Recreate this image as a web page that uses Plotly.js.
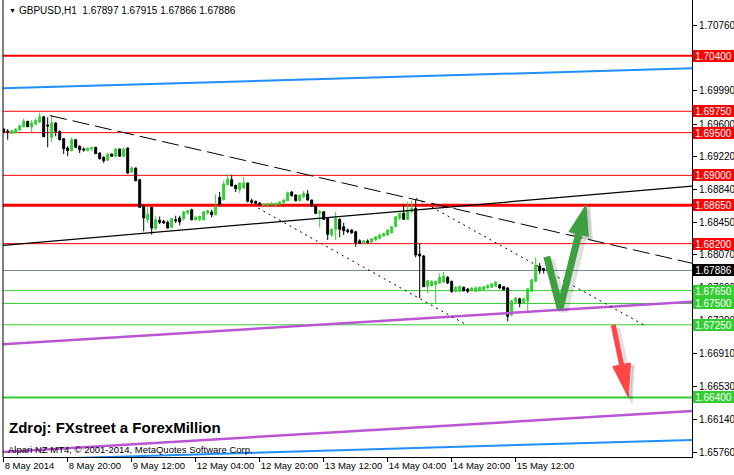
<!DOCTYPE html>
<html>
<head>
<meta charset="utf-8">
<script src="https://cdn.plot.ly/plotly-3.0.1.min.js"></script>
<style>
  html, body { margin: 0; padding: 0; background: #fff; }
  #chart { width: 734px; height: 475px; }
</style>
</head>
<body>
<div id="chart"></div>
<script>
// ---- Data (GBPUSD, H1) ----
const symbolName = 'GBPUSD,H1';
const timeLabels = ['8 May 2014', '8 May 20:00', '9 May 12:00', '12 May 04:00', '12 May 20:00',
  '13 May 12:00', '14 May 04:00', '14 May 20:00', '15 May 12:00'];
const timeLabelBars = [0, 16, 32, 48, 64, 80, 96, 112, 128];

const opens = [1.69542,1.69519,1.69492,1.69496,1.69531,1.69569,1.69633,1.69566,1.69601,1.69624,
  1.69686,1.69589,1.69445,1.69613,1.69515,1.69429,1.69320,1.69288,1.69417,1.69340,
  1.69308,1.69288,1.69308,1.69328,1.69261,1.69211,1.69176,1.69250,1.69223,1.69308,
  1.69223,1.69320,1.69039,1.69086,1.68949,1.68637,1.68480,1.68625,1.68375,1.68473,
  1.68462,1.68450,1.68391,1.68480,1.68500,1.68492,1.68559,1.68597,1.68480,1.68480,
  1.68480,1.68559,1.68571,1.68539,1.68743,1.68715,1.68890,1.68949,1.68883,1.68832,
  1.68852,1.68910,1.68703,1.68696,1.68676,1.68649,1.68649,1.68656,1.68649,1.68661,
  1.68679,1.68703,1.68805,1.68770,1.68703,1.68750,1.68781,1.68711,1.68641,1.68555,
  1.68574,1.68497,1.68301,1.68368,1.68485,1.68398,1.68360,1.68360,1.68340,1.68234,
  1.68204,1.68231,1.68219,1.68243,1.68262,1.68289,1.68301,1.68328,1.68398,1.68497,
  1.68555,1.68485,1.68574,1.68614,1.68079,1.68055,1.67700,1.67707,1.67719,1.67739,
  1.67751,1.67806,1.67759,1.67642,1.67642,1.67689,1.67669,1.67649,1.67642,1.67649,
  1.67661,1.67681,1.67689,1.67700,1.67719,1.67696,1.67681,1.67368,1.67517,1.67555,
  1.67505,1.67525,1.67642,1.67759,1.67935,1.67905,1.67897];
const highs = [1.69548,1.69542,1.69531,1.69548,1.69593,1.69663,1.69636,1.69648,1.69671,1.69733,
  1.69695,1.69679,1.69703,1.69620,1.69527,1.69437,1.69340,1.69445,1.69420,1.69352,
  1.69328,1.69325,1.69330,1.69332,1.69270,1.69223,1.69253,1.69253,1.69312,1.69312,
  1.69328,1.69325,1.69106,1.69090,1.68960,1.68656,1.68625,1.68630,1.68520,1.68520,
  1.68480,1.68469,1.68500,1.68527,1.68527,1.68586,1.68597,1.68609,1.68527,1.68527,
  1.68586,1.68597,1.68597,1.68781,1.68805,1.68937,1.69016,1.69007,1.68890,1.68915,
  1.68977,1.68915,1.68726,1.68703,1.68688,1.68670,1.68672,1.68684,1.68684,1.68696,
  1.68720,1.68810,1.68817,1.68781,1.68775,1.68816,1.68828,1.68715,1.68652,1.68594,
  1.68580,1.68505,1.68380,1.68574,1.68497,1.68445,1.68377,1.68368,1.68345,1.68251,
  1.68240,1.68251,1.68262,1.68289,1.68321,1.68325,1.68372,1.68406,1.68524,1.68562,
  1.68664,1.68691,1.68703,1.68719,1.68207,1.68067,1.67774,1.67770,1.67766,1.67856,
  1.67868,1.67821,1.67766,1.67700,1.67707,1.67700,1.67681,1.67689,1.67700,1.67696,
  1.67704,1.67720,1.67735,1.67759,1.67727,1.67704,1.67689,1.67544,1.67575,1.67568,
  1.67568,1.67681,1.67786,1.68040,1.67973,1.67915,1.67915];
const lows = [1.69496,1.69417,1.69484,1.69492,1.69523,1.69562,1.69566,1.69507,1.69586,1.69613,
  1.69449,1.69328,1.69387,1.69457,1.69410,1.69250,1.69223,1.69281,1.69320,1.69261,
  1.69277,1.69285,1.69281,1.69250,1.69183,1.69144,1.69170,1.69220,1.69220,1.69220,
  1.69211,1.69016,1.69027,1.68930,1.68617,1.68345,1.68442,1.68305,1.68363,1.68430,
  1.68430,1.68375,1.68383,1.68442,1.68415,1.68469,1.68539,1.68473,1.68469,1.68462,
  1.68469,1.68539,1.68508,1.68532,1.68649,1.68703,1.68883,1.68871,1.68805,1.68793,
  1.68843,1.68684,1.68664,1.68664,1.68649,1.68641,1.68641,1.68649,1.68641,1.68656,
  1.68672,1.68699,1.68752,1.68694,1.68694,1.68731,1.68703,1.68633,1.68544,1.68391,
  1.68477,1.68243,1.68281,1.68243,1.68274,1.68301,1.68321,1.68313,1.68164,1.68196,
  1.68196,1.68204,1.68211,1.68234,1.68251,1.68284,1.68295,1.68321,1.68391,1.68477,
  1.68480,1.68477,1.68555,1.68040,1.67563,1.67692,1.67622,1.67700,1.67505,1.67727,
  1.67739,1.67727,1.67622,1.67634,1.67634,1.67642,1.67622,1.67642,1.67634,1.67642,
  1.67654,1.67673,1.67681,1.67696,1.67673,1.67654,1.67291,1.67349,1.67505,1.67455,
  1.67497,1.67408,1.67634,1.67751,1.67845,1.67850,1.67866];
const closes = [1.69504,1.69507,1.69523,1.69542,1.69581,1.69633,1.69569,1.69613,1.69640,1.69686,
  1.69452,1.69578,1.69613,1.69515,1.69417,1.69312,1.69288,1.69417,1.69328,1.69300,
  1.69297,1.69320,1.69328,1.69253,1.69195,1.69171,1.69250,1.69223,1.69308,1.69223,
  1.69308,1.69027,1.69086,1.68937,1.68625,1.68500,1.68547,1.68383,1.68480,1.68450,
  1.68442,1.68383,1.68492,1.68469,1.68453,1.68571,1.68586,1.68480,1.68508,1.68520,
  1.68571,1.68586,1.68539,1.68625,1.68656,1.68898,1.68957,1.68875,1.68843,1.68910,
  1.68910,1.68696,1.68684,1.68672,1.68656,1.68664,1.68664,1.68672,1.68672,1.68688,
  1.68711,1.68796,1.68761,1.68703,1.68766,1.68790,1.68711,1.68641,1.68555,1.68574,
  1.68485,1.68309,1.68368,1.68497,1.68368,1.68351,1.68340,1.68328,1.68211,1.68204,
  1.68234,1.68216,1.68258,1.68281,1.68301,1.68321,1.68360,1.68398,1.68515,1.68555,
  1.68485,1.68594,1.68614,1.68067,1.68055,1.67696,1.67766,1.67759,1.67759,1.67806,
  1.67818,1.67739,1.67642,1.67689,1.67700,1.67649,1.67642,1.67681,1.67681,1.67689,
  1.67696,1.67712,1.67727,1.67751,1.67681,1.67661,1.67349,1.67532,1.67563,1.67505,
  1.67555,1.67672,1.67778,1.67946,1.67883,1.67890,1.67886];

// Horizontal levels
const resistanceLevels = [1.70400, 1.69750, 1.69500, 1.69000, 1.68650, 1.68200];
const supportLevels = [1.67650, 1.67500, 1.67250, 1.66400];
const currentPrice = 1.67886;
const priceTicks = [1.70760, 1.69990, 1.69600, 1.69220, 1.68840, 1.68450, 1.68070,
  1.67690, 1.67300, 1.66910, 1.66530, 1.66140, 1.65760];

// Trend lines (bar index, price)
const trendSolidX = [-0.2, 172.1], trendSolidY = [1.68179, 1.68874];
const trendDashX = [11.6, 172.1], trendDashY = [1.69699, 1.67970];
const dotAX = [63.6, 115.8], dotAY = [1.68617, 1.67247];
const dotBX = [103.1, 160.3], dotBY = [1.68730, 1.67241];
const blueUpperX = [-0.2, 172.1], blueUpperY = [1.70019, 1.70253];
const blueLowerX = [-0.2, 172.1], blueLowerY = [1.65666, 1.65901];
const purpleUpperX = [-0.2, 172.1], purpleUpperY = [1.67021, 1.67521];
const purpleLowerX = [-0.2, 172.1], purpleLowerY = [1.65760, 1.66240];

// Arrow anchors (bar index, price of tip)
const greenArrowTip = [145.6, 1.68653];
const redArrowTip = [156.15, 1.66404];

// ---- Build chart ----
const FONT = 'Liberation Sans, Arial, sans-serif';
const barIdx = opens.map((_, i) => i);

function line(x, y, color, width, dash) {
  return { type: 'scatter', mode: 'lines', x: x, y: y, hoverinfo: 'skip', showlegend: false,
    line: { color: color, width: width, dash: dash || 'solid' } };
}

const traces = [
  line(blueUpperX, blueUpperY, '#1E90FF', 2),
  line(blueLowerX, blueLowerY, '#1E90FF', 2),
  line(purpleUpperX, purpleUpperY, '#BA55D3', 2.5),
  line(purpleLowerX, purpleLowerY, '#BA55D3', 2.5),
  line(trendSolidX, trendSolidY, '#000000', 1.2),
  line(trendDashX, trendDashY, '#000000', 1, '17px,6px'),
  line(dotAX, dotAY, '#000000', 1, '2px,4px'),
  line(dotBX, dotBY, '#000000', 1, '2px,4px'),
  {
    type: 'candlestick', x: barIdx, open: opens, high: highs, low: lows, close: closes,
    hoverinfo: 'skip', showlegend: false, whiskerwidth: 0,
    increasing: { line: { color: '#32CD32', width: 1 }, fillcolor: '#32CD32' },
    decreasing: { line: { color: '#000000', width: 1 }, fillcolor: '#000000' }
  }
];

const shapes = [];
const annotations = [];
function level(y, color, width) {
  shapes.push({ type: 'line', xref: 'paper', x0: 0, x1: 1, yref: 'y', y0: y, y1: y,
    layer: 'below', line: { color: color, width: width } });
}
function priceBox(y, bg) {
  annotations.push({ xref: 'paper', x: 1, xanchor: 'left', xshift: 1, yref: 'y', y: y,
    yanchor: 'middle', text: y.toFixed(5), showarrow: false, bgcolor: bg,
    borderpad: 0, borderwidth: 0, width: 41, height: 12, align: 'center',
    font: { family: FONT, size: 10, color: '#ffffff' } });
}
resistanceLevels.forEach((v, i) => {
  level(v, '#FF0000', (i === 0) ? 2 : (i === 4 ? 3 : 1));
  priceBox(v, '#FF0000');
});
supportLevels.forEach((v, i) => {
  level(v, '#32CD32', (i === 3) ? 2 : 1);
  priceBox(v, '#32CD32');
});
level(currentPrice, '#778899', 1);
priceBox(currentPrice, '#000000');

// left frame line
shapes.push({ type: 'line', xref: 'paper', x0: 0, x1: 0, yref: 'paper', y0: 0, y1: 1,
  line: { color: '#000', width: 1 } });

// Arrows (pixel-sized paths anchored at their tip)
function pixPath(anchor, path, lineColor, lineWidth, fill) {
  shapes.push({ type: 'path', xref: 'x', yref: 'y', xsizemode: 'pixel', ysizemode: 'pixel',
    xanchor: anchor[0], yanchor: anchor[1], path: path, layer: 'above',
    fillcolor: fill || 'rgba(0,0,0,0)', line: { color: lineColor, width: lineWidth } });
}
function P(pts, dx, dy, close) {
  return pts.map((p, i) => (i ? 'L' : 'M') + (p[0] + dx) + ',' + (p[1] + dy)).join(' ') + (close ? ' Z' : '');
}
const gShaft = [[-39.3, -51.7], [-26, -103.3], [-7.4, -29]];
const gHead = [[0, 0], [2.3, -31.5], [-17.1, -26.7]];
const rShaft = [[-15, 72], [-6.7, 32.3]];
const rHead = [[0, 0], [2.1, 34.1], [-15.5, 30.5]];
// shadows
pixPath(greenArrowTip, P(gShaft, 3, -3), 'rgba(0,0,0,0.12)', 10);
pixPath(greenArrowTip, P(gHead, 3, -3, true), 'rgba(0,0,0,0.12)', 3, 'rgba(0,0,0,0.12)');
pixPath(redArrowTip, P(rShaft, 3, -3), 'rgba(0,0,0,0.12)', 8);
pixPath(redArrowTip, P(rHead, 3, -3, true), 'rgba(0,0,0,0.12)', 3, 'rgba(0,0,0,0.12)');
// arrows
pixPath(greenArrowTip, P(gShaft, 0, 0), '#3F9F3F', 7);
pixPath(greenArrowTip, P(gHead, 0, 0, true), '#3F9F3F', 1, '#3F9F3F');
pixPath(redArrowTip, P(rShaft, 0, 0), '#FF4545', 5);
pixPath(redArrowTip, P(rHead, 0, 0, true), '#FF4545', 1, '#FF4545');

// Texts
const last = opens.length - 1;
annotations.push({ xref: 'paper', yref: 'paper', x: 0, y: 1, xanchor: 'left', yanchor: 'top',
  xshift: 4, yshift: -5, showarrow: false, text: '▼',
  font: { family: FONT, size: 7, color: '#000' } });
annotations.push({ xref: 'paper', yref: 'paper', x: 0, y: 1, xanchor: 'left', yanchor: 'top',
  xshift: 14, yshift: -3, showarrow: false,
  text: symbolName + '&nbsp;&nbsp;' + [opens[last], highs[last], lows[last], closes[last]].map(v => v.toFixed(5)).join(' '),
  font: { family: FONT, size: 10, color: '#000' } });
annotations.push({ xref: 'paper', yref: 'paper', x: 0, y: 0.0635, xanchor: 'left', yanchor: 'middle',
  xshift: 4, showarrow: false, text: '<b>Zdroj: FXstreet a ForexMillion</b>',
  font: { family: FONT, size: 15, color: '#000' } });
annotations.push({ xref: 'paper', yref: 'paper', x: 0, y: 0.0175, xanchor: 'left', yanchor: 'middle',
  xshift: 3, showarrow: false, text: 'Alpari NZ MT4, © 2001-2014, MetaQuotes Software Corp.',
  font: { family: FONT, size: 9.5, color: '#000' } });

const layout = {
  width: 734, height: 475,
  margin: { l: 3, r: 42, t: 0, b: 18, pad: 0 },
  paper_bgcolor: '#ffffff', plot_bgcolor: '#ffffff',
  showlegend: false,
  xaxis: {
    range: [-0.175, 172.075], tickvals: timeLabelBars, ticktext: timeLabels,
    tickangle: 0, automargin: false,
    ticks: 'outside', ticklen: 4, tickcolor: '#000', showline: true, linecolor: '#000', linewidth: 1,
    showgrid: false, zeroline: false, rangeslider: { visible: false },
    ticklabelposition: 'outside right',
    tickfont: { family: FONT, size: 9.5, color: '#000' }, fixedrange: true
  },
  yaxis: {
    side: 'right', range: [1.65702, 1.71053], tickvals: priceTicks,
    ticktext: priceTicks.map(v => v.toFixed(5)), automargin: false,
    ticks: 'outside', ticklen: 4, tickcolor: '#000', showline: true, linecolor: '#000', linewidth: 1,
    showgrid: false, zeroline: false,
    tickfont: { family: FONT, size: 10, color: '#000' }, fixedrange: true
  },
  shapes: shapes,
  annotations: annotations
};

Plotly.newPlot('chart', traces, layout, { staticPlot: true, displayModeBar: false });
</script>
</body>
</html>
